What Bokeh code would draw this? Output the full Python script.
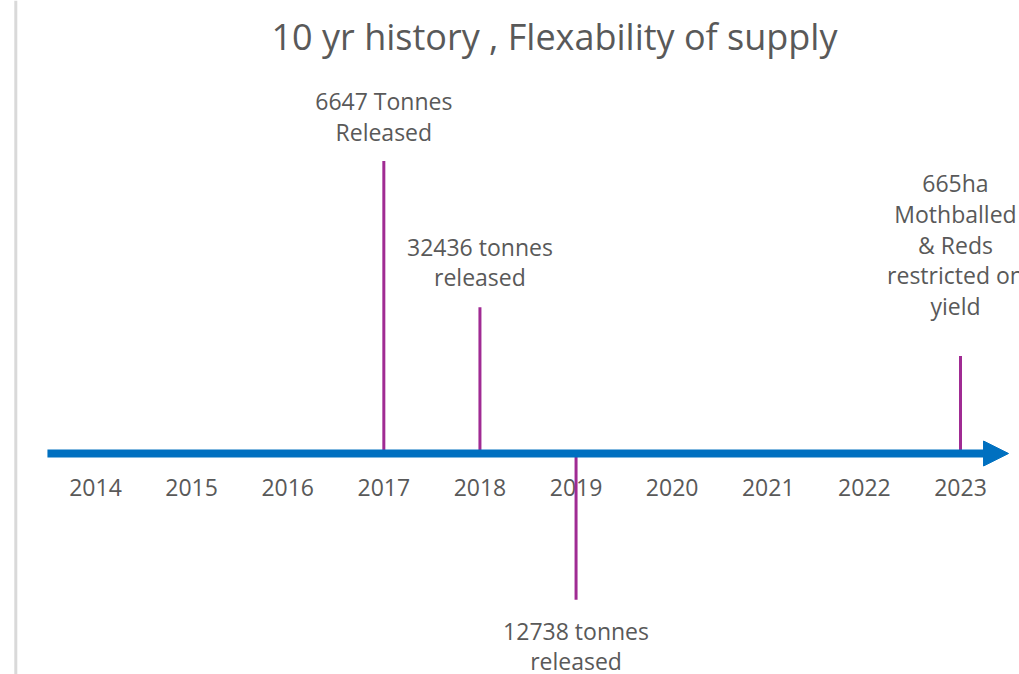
from bokeh.plotting import figure
from bokeh.models import Range1d, Arrow, NormalHead, Span, Label, ColumnDataSource
from bokeh.core.properties import value
from bokeh.embed import file_html
from bokeh.resources import INLINE

# ---- data ----
title_text = "10 yr history , Flexability of supply"
years = [2014, 2015, 2016, 2017, 2018, 2019, 2020, 2021, 2022, 2023]
year_labels = [str(y) for y in years]
event_years = [2017, 2018, 2019, 2023]
event_heights = [3.0, 1.5, -1.5, 1.0]
event_labels = [
    "6647 Tonnes\nReleased",
    "32436 tonnes\nreleased",
    "12738 tonnes\nreleased",
    "665ha\nMothballed\n& Reds\nrestricted on\nyield",
]

# ---- styles ----
GREY = "#595959"
BLUE = "#0070C0"
PURPLE = "#A02B93"
FONT = value("Open Sans")
label_gaps = [13, 14, 15, 34]   # px between stem end and its label
label_dx = [0, 0, 0, -5]        # px horizontal nudge of labels

W, H = 1019, 674
px_per_year = 96.11
px_per_unit = 97.5
x0 = years[0] - 95 / px_per_year
y_top = 453 / px_per_unit
p = figure(
    width=W, height=H, output_backend="svg", toolbar_location=None,
    x_range=Range1d(x0, x0 + W / px_per_year),
    y_range=Range1d(y_top - H / px_per_unit, y_top),
    min_border=0, background_fill_color="white", border_fill_color="white",
)
p.axis.visible = False
p.grid.visible = False
p.outline_line_color = None

# frame border at left
p.add_layout(Span(location=x0 + 15.3 / px_per_year, dimension="height",
                  line_color="#d9d9d9", line_width=3))

# year labels
p.text(x=years, y=[0] * len(years), text=year_labels, y_offset=34,
       text_align="center", text_baseline="middle", text_color=GREY,
       text_font=FONT, text_font_size="23px")

# stems
p.segment(x0=event_years, y0=[0] * len(event_years), x1=event_years, y1=event_heights,
          line_color=PURPLE, line_width=3)

up = [i for i, h in enumerate(event_heights) if h >= 0]
down = [i for i, h in enumerate(event_heights) if h < 0]
src_up = ColumnDataSource(dict(
    x=[event_years[i] for i in up], y=[event_heights[i] for i in up],
    t=[event_labels[i] for i in up], off=[-label_gaps[i] for i in up],
    dx=[label_dx[i] for i in up]))
src_dn = ColumnDataSource(dict(
    x=[event_years[i] for i in down], y=[event_heights[i] for i in down],
    t=[event_labels[i] for i in down], off=[label_gaps[i] for i in down],
    dx=[label_dx[i] for i in down]))
p.text(x="x", y="y", text="t", y_offset="off", x_offset="dx", source=src_up,
       text_align="center", text_baseline="bottom", text_color=GREY,
       text_font=FONT, text_font_size="23px", text_line_height=0.96)
p.text(x="x", y="y", text="t", y_offset="off", x_offset="dx", source=src_dn,
       text_align="center", text_baseline="top", text_color=GREY,
       text_font=FONT, text_font_size="23px", text_line_height=0.96)

# timeline arrow
p.add_layout(Arrow(end=NormalHead(size=25, fill_color=BLUE, line_color=BLUE),
                   x_start=years[0] - 0.5, y_start=0, x_end=years[-1] + 0.5, y_end=0,
                   line_color=BLUE, line_width=8))

# title
p.add_layout(Label(x=x0 + 554 / px_per_year, y=y_top - 36 / px_per_unit,
                   text=title_text, text_align="center", text_baseline="middle",
                   text_color=GREY, text_font="Open Sans", text_font_size="36px"))

open("out.html", "w").write(file_html(p, INLINE))
